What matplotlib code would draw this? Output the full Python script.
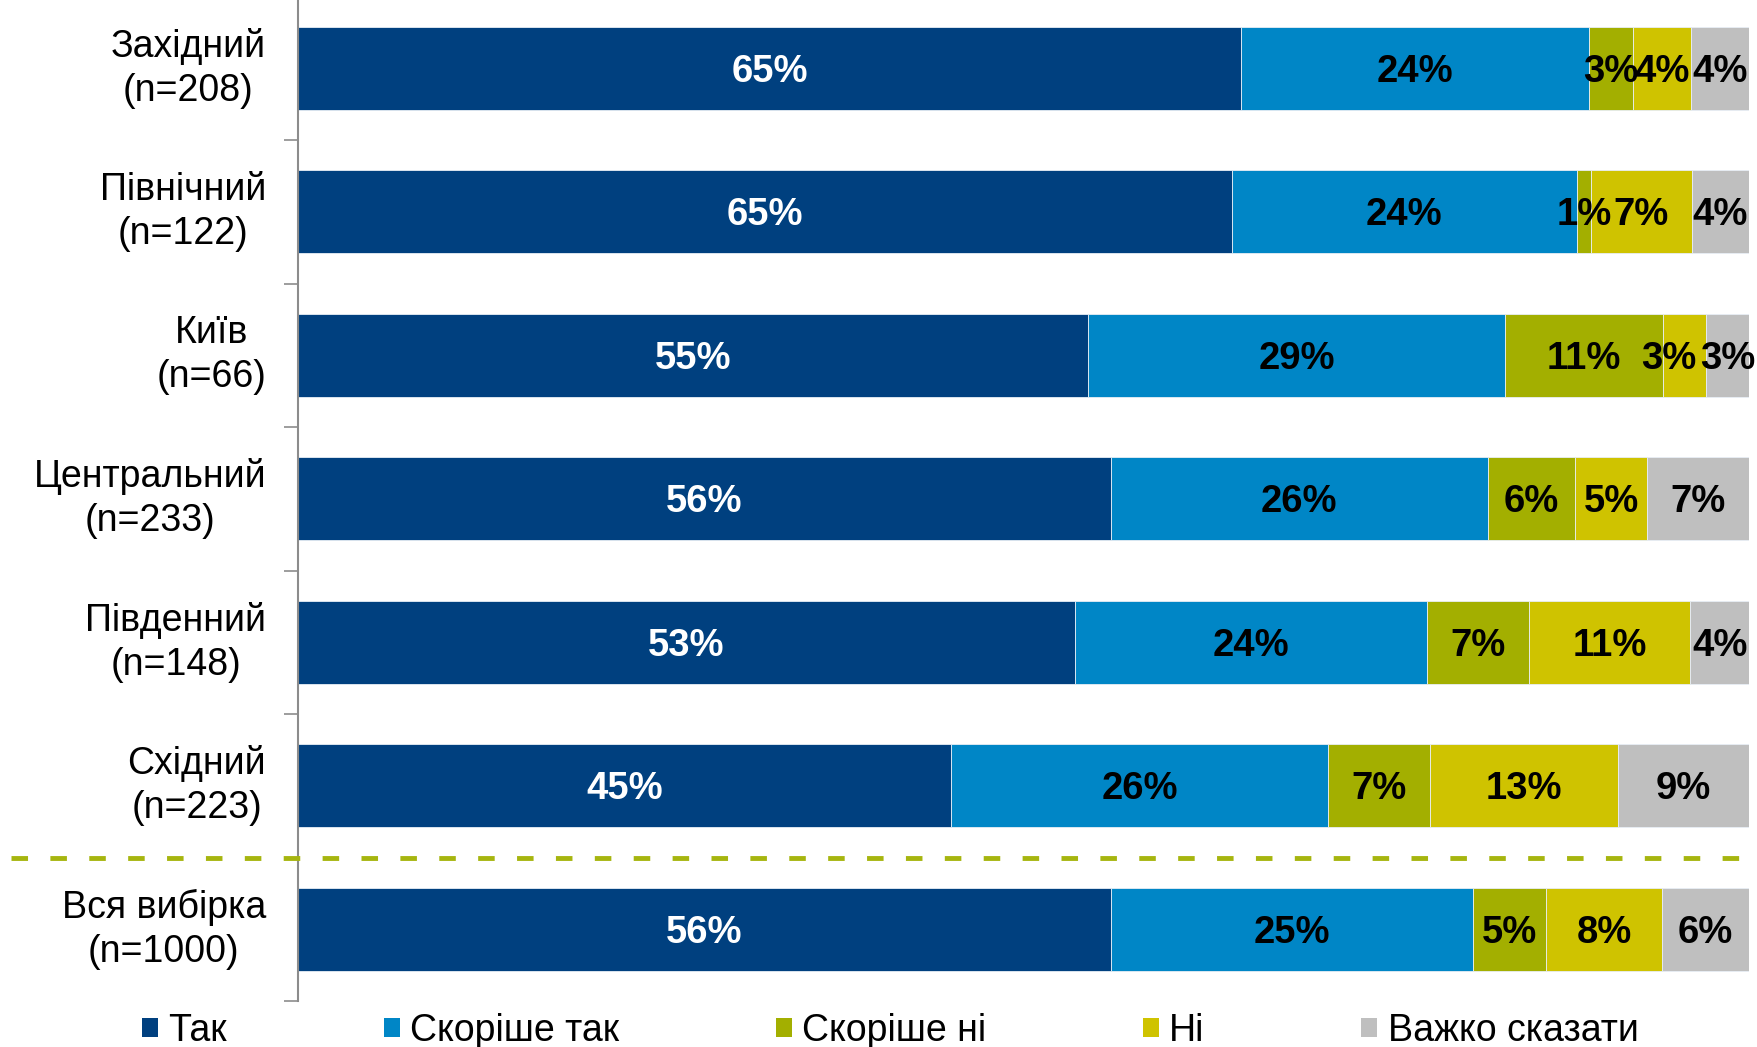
"""Регіональний розподіл відповідей: 100% горизонтальні стовпчики."""

import matplotlib

matplotlib.use("Agg")
import matplotlib.pyplot as plt
import matplotlib.transforms as mtransforms
import numpy as np
from matplotlib.lines import Line2D
from matplotlib.patches import Rectangle

plt.rcParams["font.family"] = ["Liberation Sans", "DejaVu Sans"]

REGIONS = [
    "Західний\n(n=208)",
    "Північний\n(n=122)",
    "Київ\n(n=66)",
    "Центральний\n(n=233)",
    "Південний\n(n=148)",
    "Східний\n(n=223)",
    "Вся вибірка\n(n=1000)",
]
SERIES = ["Так", "Скоріше так", "Скоріше ні", "Ні", "Важко сказати"]

# значення у відсотках (підписи на стовпчиках)
tak = [65, 65, 55, 56, 53, 45, 56]
skorishe_tak = [24, 24, 29, 26, 24, 26, 25]
skorishe_ni = [3, 1, 11, 6, 7, 7, 5]
ni = [4, 7, 3, 5, 11, 13, 8]
vazhko = [4, 4, 3, 7, 4, 9, 6]

COLORS = ["#00407F", "#0086C6", "#A3AF00", "#CFC300", "#BFBFBF"]
TEXT_COLORS = ["white", "black", "black", "black", "black"]

W_PX, H_PX, DPI = 1758, 1047, 100


def main() -> None:
    data = np.array([tak, skorishe_tak, skorishe_ni, ni, vazhko], dtype=float)
    shares = data / data.sum(axis=0)

    fig = plt.figure(figsize=(W_PX / DPI, H_PX / DPI), dpi=DPI)
    left, right = 298 / W_PX, 1749 / W_PX
    bottom, top = 1 - 1001 / H_PX, 1 + 3.5 / H_PX
    ax = fig.add_axes([left, bottom, right - left, top - bottom])

    y = np.arange(len(REGIONS))
    cum = np.zeros(len(REGIONS))
    for i, name in enumerate(SERIES):
        bars = ax.barh(
            y, shares[i], left=cum, height=0.578, color=COLORS[i],
            edgecolor="#e8eef5", linewidth=0.6, label=name,
        )
        labels = [f"{v:.0f}%" for v in data[i]]
        anns = ax.bar_label(
            bars, labels=labels, label_type="center", color=TEXT_COLORS[i],
            fontsize=27.5, fontweight="bold",
        )
        for ann in anns:
            ann.xyann = (0, -2.5)
        if name == "Ні":
            # у Києві підпис зсунуто вліво, щоб не налазив на сусідній
            anns[2].xyann = (-11, -2.5)
        cum += shares[i]

    ax.set_xlim(0, 1)
    ax.set_ylim(len(REGIONS) - 0.5, -0.5)
    ax.set_yticks(y)
    ax.set_yticklabels(REGIONS, fontsize=27, ha="right", va="center",
                       multialignment="center", linespacing=1.3)
    ax.tick_params(axis="y", which="major", length=0, pad=23)
    ax.set_yticks(np.arange(-0.5, len(REGIONS)), minor=True)
    ax.tick_params(axis="y", which="minor", length=10, width=1.2, color="#8c8c8c")
    ax.set_xticks([])
    for side in ("top", "right", "bottom"):
        ax.spines[side].set_visible(False)
    ax.spines["left"].set_color("#8c8c8c")
    ax.spines["left"].set_linewidth(1.5)

    # пунктир між регіонами та загальною вибіркою
    trans = mtransforms.blended_transform_factory(fig.transFigure, ax.transData)
    sep = Line2D([11 / W_PX, 1.0], [5.5, 5.5], transform=trans, color="#A6B50F",
                 linewidth=3.5, linestyle=(0, (3.4, 4.6)), clip_on=False)
    fig.add_artist(sep)

    handles = [Rectangle((0, 0), 1, 1, facecolor=c) for c in COLORS]
    fig.legend(
        handles, SERIES, loc="center left", bbox_to_anchor=(142 / W_PX, 1 - 1031 / H_PX),
        ncol=5, frameon=False, fontsize=27, handlelength=0.43, handleheight=0.43,
        handletextpad=0.27, columnspacing=4.18, borderaxespad=0, borderpad=0,
    )

    fig.savefig("out.png", dpi=DPI)
    plt.close(fig)


if __name__ == "__main__":
    main()
